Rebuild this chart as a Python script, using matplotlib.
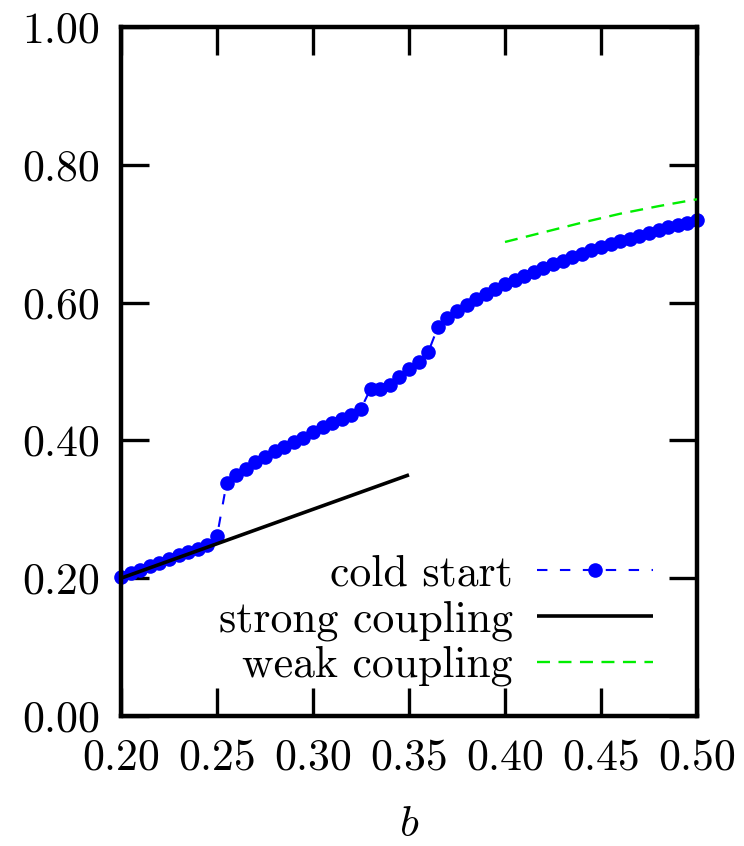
import matplotlib
matplotlib.use("Agg")
import matplotlib.pyplot as plt

plt.rcParams['font.family'] = ['cmr10', 'DejaVu Serif']
plt.rcParams['mathtext.fontset'] = 'cm'
plt.rcParams['axes.formatter.use_mathtext'] = True

# ---- data ----
b_cold = [0.200, 0.205, 0.210, 0.215, 0.220, 0.225, 0.230, 0.235, 0.240, 0.245,
          0.250, 0.255, 0.260, 0.265, 0.270, 0.275, 0.280, 0.285, 0.290, 0.295,
          0.300, 0.305, 0.310, 0.315, 0.320, 0.325, 0.330, 0.335, 0.340, 0.345,
          0.350, 0.355, 0.360, 0.365, 0.370, 0.375, 0.380, 0.385, 0.390, 0.395,
          0.400, 0.405, 0.410, 0.415, 0.420, 0.425, 0.430, 0.435, 0.440, 0.445,
          0.450, 0.455, 0.460, 0.465, 0.470, 0.475, 0.480, 0.485, 0.490, 0.495,
          0.500]
v_cold = [0.202, 0.207, 0.212, 0.217, 0.222, 0.228, 0.233, 0.238, 0.243, 0.248,
          0.261, 0.338, 0.350, 0.359, 0.368, 0.376, 0.384, 0.391, 0.398, 0.404,
          0.412, 0.419, 0.425, 0.431, 0.437, 0.446, 0.475, 0.475, 0.480, 0.492,
          0.503, 0.514, 0.528, 0.564, 0.578, 0.588, 0.596, 0.605, 0.612, 0.620,
          0.627, 0.633, 0.639, 0.644, 0.650, 0.656, 0.661, 0.666, 0.671, 0.676,
          0.680, 0.685, 0.689, 0.693, 0.697, 0.701, 0.705, 0.709, 0.713, 0.716,
          0.720]

b_strong = [0.20, 0.35]
v_strong = [0.20, 0.35]

b_weak = [0.40, 0.42, 0.44, 0.46, 0.48, 0.50]
v_weak = [0.688, 0.702, 0.716, 0.729, 0.740, 0.750]

xticks = [0.20, 0.25, 0.30, 0.35, 0.40, 0.45, 0.50]
xtick_labels = ["0.20", "0.25", "0.30", "0.35", "0.40", "0.45", "0.50"]
yticks = [0.0, 0.2, 0.4, 0.6, 0.8, 1.0]
ytick_labels = ["0.00", "0.20", "0.40", "0.60", "0.80", "1.00"]

labels = ["cold start", "strong coupling", "weak coupling"]

FS = 31.5

# ---- figure ----
fig = plt.figure(figsize=(7.44, 8.46), dpi=100)
ax = fig.add_axes([121/744, 1 - 716/846, (697-121)/744, (716-27)/846])

ax.plot(b_cold, v_cold, color='#0000ff', linestyle=(0, (5, 6)), linewidth=1.5,
        marker='o', markersize=10.5, markeredgewidth=0, clip_on=False, zorder=2,
        label=labels[0])
ax.plot(b_strong, v_strong, color='black', linewidth=2.6, zorder=3,
        solid_capstyle='butt', label=labels[1])
ax.plot(b_weak, v_weak, color='#00ee00', linestyle=(0, (5.5, 3.6)), linewidth=1.7,
        zorder=3, label=labels[2])

ax.set_xlim(0.20, 0.50)
ax.set_ylim(0.0, 1.0)
ax.set_xticks(xticks)
ax.set_xticklabels(xtick_labels)
ax.set_yticks(yticks)
ax.set_yticklabels(ytick_labels)

for s in ax.spines.values():
    s.set_linewidth(3.2)
ax.tick_params(which='both', direction='in', top=True, right=True,
               length=20, width=2.4, labelsize=FS, color='black')
ax.tick_params(axis='x', pad=16)
ax.tick_params(axis='y', pad=15)

ax.set_xlabel(r'$b$', fontsize=FS, labelpad=19)

leg = ax.legend(loc='lower right', bbox_to_anchor=((653-121)/576, 0.043),
                frameon=False, fontsize=FS, markerfirst=False, numpoints=1,
                handlelength=2.65, handletextpad=0.55, labelspacing=0.12,
                borderpad=0, borderaxespad=0)

fig.savefig('out.png', dpi=100)
